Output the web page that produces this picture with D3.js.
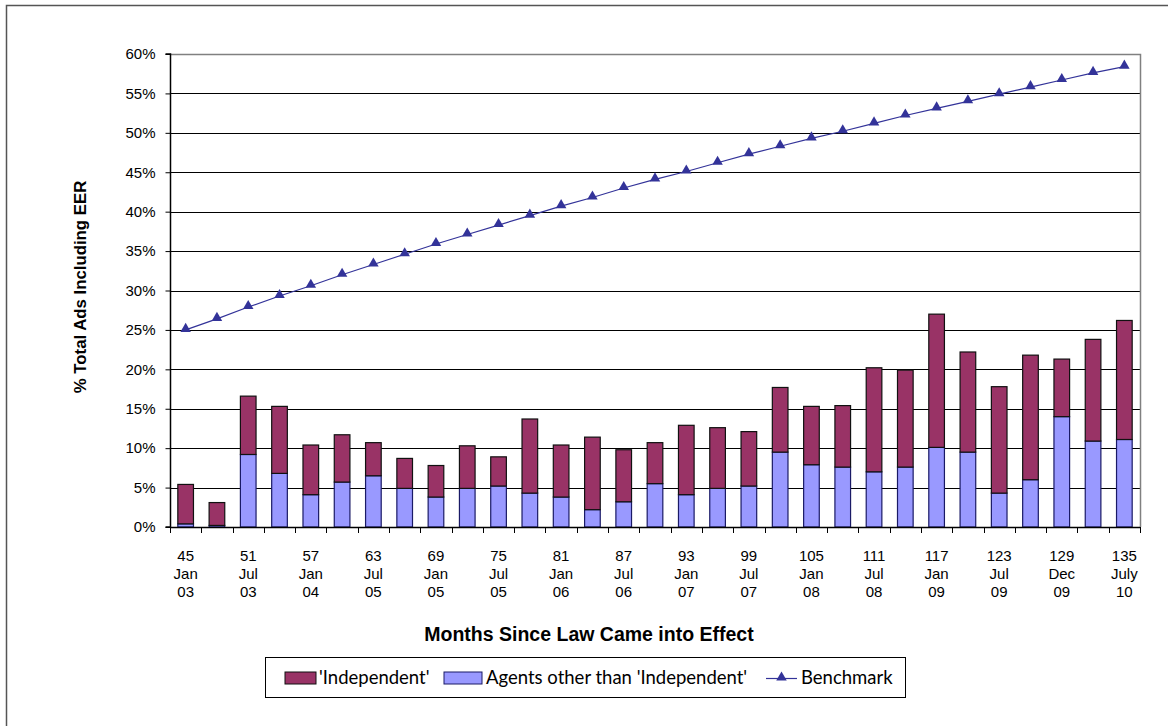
<!DOCTYPE html>
<html>
<head>
<meta charset="utf-8">
<script src="https://cdn.jsdelivr.net/npm/d3@7"></script>
<style>
  html, body { margin: 0; padding: 0; background: #fff; }
  svg { display: block; }
</style>
</head>
<body>
<svg id="chart" width="1168" height="726"></svg>
<script>
// Months since the law came into effect (one bar per survey point)
const months = [45, 48, 51, 54, 57, 60, 63, 66, 69, 72, 75, 78, 81, 84, 87, 90,
                93, 96, 99, 102, 105, 108, 111, 114, 117, 120, 123, 126, 129, 132, 135];

// Month / year labels shown under every second bar
const monthLabels = ["Jan", "Jul", "Jan", "Jul", "Jan", "Jul", "Jan", "Jul",
                     "Jan", "Jul", "Jan", "Jul", "Jan", "Jul", "Dec", "July"];
const yearLabels  = ["03", "03", "04", "05", "05", "05", "06", "06",
                     "07", "07", "08", "08", "09", "09", "09", "10"];

// Share of ads (%) from agents other than 'Independent' (bottom segment)
const agents = [0.4, 0.2, 9.2, 6.8, 4.1, 5.7, 6.5, 4.9, 3.8, 4.9, 5.2, 4.3, 3.8, 2.2, 3.2, 5.5,
                4.1, 4.9, 5.2, 9.5, 7.9, 7.6, 7.0, 7.6, 10.1, 9.5, 4.3, 6.0, 14.0, 10.9, 11.1];

// Total share of ads (%) including EER; 'Independent' is the remainder on top
const totals = [5.4, 3.1, 16.6, 15.3, 10.4, 11.7, 10.7, 8.7, 7.8, 10.3, 8.9, 13.7, 10.4, 11.4, 9.8, 10.7,
                12.9, 12.6, 12.1, 17.7, 15.3, 15.4, 20.2, 19.9, 27.0, 22.2, 17.8, 21.8, 21.3, 23.8, 26.2];

// Benchmark line (%)
const benchmark = [25.0, 26.4, 27.9, 29.3, 30.6, 32.0, 33.3, 34.6, 35.9, 37.1, 38.3, 39.5, 40.7, 41.8, 43.0, 44.1,
                   45.1, 46.2, 47.3, 48.3, 49.3, 50.2, 51.2, 52.2, 53.1, 54.0, 54.9, 55.8, 56.7, 57.6, 58.4];

// Y-axis ticks (%)
const yTicks = [0, 5, 10, 15, 20, 25, 30, 35, 40, 45, 50, 55, 60];

const seriesNames = ["'Independent'", "Agents other than 'Independent'", "Benchmark"];
const colIndep = "#993366";
const colAgents = "#9999ff";
const colBench = "#333399";
const arial = "Liberation Sans, Arial, sans-serif";

const svg = d3.select("#chart");
const plotLeft = 170, plotRight = 1140, plotTop = 54, plotBottom = 527;

// Outer chart frame
svg.append("rect")
  .attr("x", 6.5).attr("y", 5.5)
  .attr("width", 1180).attr("height", 740)
  .attr("fill", "none").attr("stroke", "#555").attr("stroke-width", 1.5);

const x = d3.scaleBand().domain(months).range([plotLeft, plotRight])
  .paddingInner(0.5).paddingOuter(0.25);
const y = d3.scaleLinear().domain([0, 60]).range([plotBottom, plotTop]);

const rows = months.map((m, i) => ({
  month: m, agents: agents[i], independent: +(totals[i] - agents[i]).toFixed(2), bench: benchmark[i]
}));
const stack = d3.stack().keys(["agents", "independent"])(rows);

// Horizontal gridlines
svg.append("g").selectAll("line")
  .data(yTicks.filter(t => t > 0 && t < 60))
  .join("line")
  .attr("x1", plotLeft).attr("x2", plotRight)
  .attr("y1", d => Math.round(y(d)) + 0.5).attr("y2", d => Math.round(y(d)) + 0.5)
  .attr("stroke", "#000").attr("stroke-width", 1.2);

// Plot border (top and right)
svg.append("path")
  .attr("d", `M${plotLeft},${Math.round(y(60)) + 0.5}H${plotRight + 0.5}V${plotBottom}`)
  .attr("fill", "none").attr("stroke", "#808080").attr("stroke-width", 1.5);

// Stacked bars
const colors = { agents: colAgents, independent: colIndep };
const strokes = { agents: "#1a1a66", independent: "#111" };
stack.forEach(layer => {
  svg.append("g").selectAll("rect")
    .data(layer)
    .join("rect")
    .attr("x", d => x(d.data.month))
    .attr("width", x.bandwidth())
    .attr("y", d => y(d[1]))
    .attr("height", d => y(d[0]) - y(d[1]))
    .attr("fill", colors[layer.key])
    .attr("stroke", strokes[layer.key])
    .attr("stroke-width", 1.2);
});

// Y axis
const yAxis = d3.axisLeft(y).tickValues(yTicks).tickSize(5).tickFormat(d => d + "%");
const gy = svg.append("g").attr("transform", `translate(${plotLeft + 0.5},0)`).call(yAxis);
gy.select(".domain").attr("stroke", "#000").attr("stroke-width", 1.5).attr("d", `M-5,${y(60)}H0V${plotBottom}H-5`);
gy.selectAll(".tick line").attr("stroke", "#000");
gy.selectAll(".tick text")
  .attr("x", -15)
  .attr("font-family", arial)
  .attr("font-size", 15).attr("fill", "#000");

// X axis: baseline and tick marks between categories
const step = x.step();
const boundaries = d3.range(months.length + 1).map(i => plotLeft + i * step);
svg.append("line")
  .attr("x1", plotLeft).attr("x2", plotRight)
  .attr("y1", plotBottom + 0.5).attr("y2", plotBottom + 0.5)
  .attr("stroke", "#000").attr("stroke-width", 1.5);
svg.append("g").selectAll("line")
  .data(boundaries)
  .join("line")
  .attr("x1", d => Math.round(d) + 0.5).attr("x2", d => Math.round(d) + 0.5)
  .attr("y1", plotBottom).attr("y2", plotBottom + 6)
  .attr("stroke", "#000");

// Category labels (every second month)
const labelled = months.filter((m, i) => i % 2 === 0);
const xl = svg.append("g")
  .attr("font-family", arial)
  .attr("font-size", 15).attr("text-anchor", "middle").attr("fill", "#000");
labelled.forEach((m, j) => {
  const cx = x(m) + x.bandwidth() / 2;
  const t = xl.append("text").attr("x", cx).attr("y", 561);
  t.append("tspan").attr("x", cx).attr("dy", 0).text(m);
  t.append("tspan").attr("x", cx).attr("dy", 18).text(monthLabels[j]);
  t.append("tspan").attr("x", cx).attr("dy", 18).text(yearLabels[j]);
});

// Benchmark line with triangle markers
const line = d3.line()
  .x(d => x(d.month) + x.bandwidth() / 2)
  .y(d => y(d.bench));
svg.append("path").datum(rows)
  .attr("d", line)
  .attr("fill", "none").attr("stroke", colBench).attr("stroke-width", 1.2);
const tri = d3.symbol().type(d3.symbolTriangle).size(48);
svg.append("g").selectAll("path")
  .data(rows)
  .join("path")
  .attr("transform", d => `translate(${x(d.month) + x.bandwidth() / 2},${y(d.bench) - 1})`)
  .attr("d", tri)
  .attr("fill", colBench);

// Axis titles
svg.append("text")
  .attr("transform", `translate(86,287) rotate(-90)`)
  .attr("text-anchor", "middle")
  .attr("font-family", arial)
  .attr("font-size", 16.8).attr("font-weight", "bold")
  .text("% Total Ads Including EER");
svg.append("text")
  .attr("x", 589).attr("y", 641)
  .attr("text-anchor", "middle")
  .attr("font-family", arial)
  .attr("font-size", 19.5).attr("font-weight", "bold")
  .text("Months Since Law Came into Effect");

// Legend
const lg = svg.append("g");
lg.append("rect")
  .attr("x", 265.5).attr("y", 657.5).attr("width", 640).attr("height", 40)
  .attr("fill", "#fff").attr("stroke", "#000").attr("stroke-width", 1);
const lfont = "Lato, 'Open Sans', sans-serif";
const lsize = 18.5;
const ly = 678;
lg.append("rect").attr("x", 285).attr("y", ly - 6).attr("width", 31).attr("height", 12)
  .attr("fill", colIndep).attr("stroke", "#111");
lg.append("text").attr("x", 319).attr("y", ly + 6).attr("font-family", lfont).attr("font-size", lsize)
  .text(seriesNames[0]);
lg.append("rect").attr("x", 444).attr("y", ly - 6).attr("width", 38).attr("height", 12)
  .attr("fill", colAgents).attr("stroke", "#1a1a66");
lg.append("text").attr("x", 486).attr("y", ly + 6).attr("font-family", lfont).attr("font-size", lsize)
  .text(seriesNames[1]);
lg.append("line").attr("x1", 766).attr("x2", 797).attr("y1", ly + 0.5).attr("y2", ly + 0.5)
  .attr("stroke", colBench).attr("stroke-width", 1.2);
lg.append("path").attr("transform", `translate(781.5,${ly - 0.5})`).attr("d", tri).attr("fill", colBench);
lg.append("text").attr("x", 801).attr("y", ly + 6).attr("font-family", lfont).attr("font-size", lsize)
  .text(seriesNames[2]);
</script>
</body>
</html>
